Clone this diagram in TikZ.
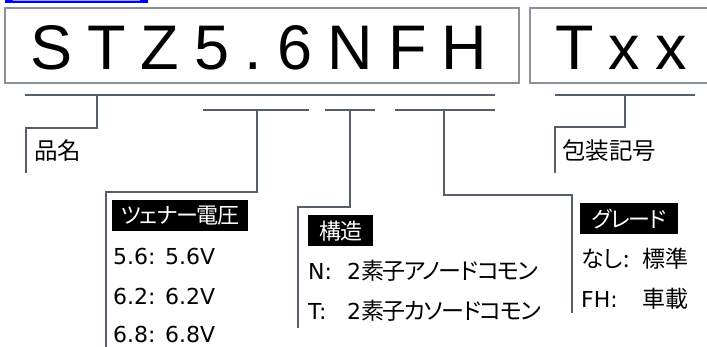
\documentclass[tikz,border=0pt]{standalone}
\usepackage{fontspec}
\setmainfont{Liberation Sans}
\newfontfamily\jp[RawFeature=+palt]{Noto Sans CJK JP}
\newfontfamily\latf{DejaVu Sans}
\definecolor{linegray}{HTML}{565F68}
\definecolor{boxgray}{HTML}{8A9198}
\definecolor{linkblue}{HTML}{0000FF}
\definecolor{linklight}{HTML}{A0A0FF}
\newcommand{\jpf}{\jp\fontsize{23}{27}\selectfont\addfontfeature{LetterSpace=-6}}
\newcommand{\jpplain}{\jp\fontsize{23}{27}\selectfont}
\newcommand{\lat}{\latf\fontsize{22}{27}\selectfont}
\newcommand{\bigf}{\fontsize{63}{63}\selectfont\addfontfeature{LetterSpace=24}}
\begin{document}
\begin{tikzpicture}[x=1pt,y=-1pt,
  conn/.style={draw=linegray, line width=2.4pt},
  codebox/.style={draw=boxgray, line width=1.2pt},
  codetext/.style={font=\bigf, inner sep=0pt, anchor=base west},
  head/.style={font=\jp\fontsize{23.5}{27}\selectfont, inner sep=0pt, anchor=base west},
  row/.style={font=\jpf, inner sep=0pt, anchor=base west},
  lbl/.style={fill=black, text=white, font=\jp\fontsize{22}{26}\selectfont\addfontfeature{LetterSpace=-6}, inner xsep=0pt, inner ysep=0pt,
    minimum height=31pt, anchor=north west}]
\useasboundingbox (0,0) rectangle (707,347);
% truncated link bar
\fill[linkblue] (5,0) rectangle (148,2.6);
\fill[linklight] (13,0) rectangle (140,1.2);
% code boxes
\draw[codebox] (5,8) rectangle (519,83);
\draw[codebox] (715,8) -- (530,8) -- (530,83) -- (715,83);
\node[codetext] (code) at (30,70) {STZ5.6NFH};
\node[codetext] (pkg) at (555,70) {Txx};
% bracket coordinates
\coordinate (a1) at (25,95);   \coordinate (a2) at (495,95);
\coordinate (at) at (97,95);   \coordinate (ae) at (26,173);
\coordinate (b1) at (203,110); \coordinate (b2) at (309,110);
\coordinate (bt) at (257,110); \coordinate (be) at (106,352);
\coordinate (c1) at (325,110); \coordinate (c2) at (375,110);
\coordinate (ct) at (350,110); \coordinate (ce) at (298,328);
\coordinate (d1) at (395,110); \coordinate (d2) at (495,110);
\coordinate (dt) at (444,110); \coordinate (de) at (572,313);
\coordinate (e1) at (555,95);  \coordinate (e2) at (695,95);
\coordinate (et) at (625,95);  \coordinate (ee) at (555,173);
% connectors
\draw[conn] (a1) -- (a2);
\draw[conn] (at) -- (at |- 0,128) -- (ae |- 0,128) -- (ae);
\draw[conn] (b1) -- (b2);
\draw[conn] (bt) -- (bt |- 0,192) -- (be |- 0,192) -- (be);
\draw[conn] (c1) -- (c2);
\draw[conn] (ct) -- (ct |- 0,207) -- (ce |- 0,207) -- (ce);
\draw[conn] (d1) -- (d2);
\draw[conn] (dt) -- (dt |- 0,195) -- (de |- 0,195) -- (de);
\draw[conn] (e1) -- (e2);
\draw[conn] (et) -- (et |- 0,127) -- (ee |- 0,127) -- (ee);
% headings
\node[head] (hin) at (34,160) {品名};
\node[head] (hou) at (562,160) {包装記号};
% zener voltage
\node[lbl, minimum width=136pt] (vz) at (112,200) {ツェナー電圧};
\node[row] (v1) at (113,265) {\makebox[52pt][l]{\lat 5.6:}{\lat 5.6V}};
\node[row] (v2) at (113,305) {\makebox[52pt][l]{\lat 6.2:}{\lat 6.2V}};
\node[row] (v3) at (113,343) {\makebox[52pt][l]{\lat 6.8:}{\lat 6.8V}};
% structure
\node[lbl, minimum width=65pt] (st) at (308,215) {構造};
\node[row] (s1) at (308,280) {\makebox[39pt][l]{\lat N:}{\lat 2}素子アノードコモン};
\node[row] (s2) at (308,320) {\makebox[39pt][l]{\lat T:}{\lat 2}素子カソードコモン};
% grade
\node[lbl, minimum width=98pt] (gr) at (580,203) {グレード\hspace{7pt}};
\node[row, font=\jpplain] (g1) at (581,268) {\makebox[61pt][l]{なし:}標準};
\node[row, font=\jpplain] (g2) at (581,308) {\makebox[61pt][l]{\lat FH:}車載};
\end{tikzpicture}
\end{document}
